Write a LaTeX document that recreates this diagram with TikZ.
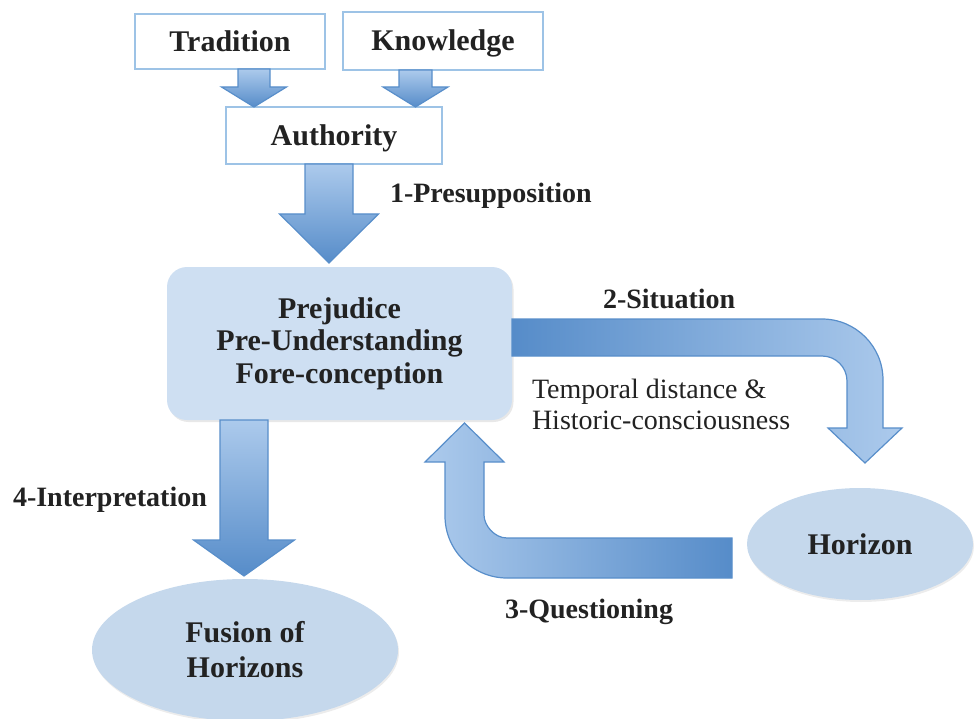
\documentclass[tikz,border=0pt]{standalone}
\usepackage{fontspec}
\setmainfont{Liberation Serif}
\usetikzlibrary{calc,shadows,shapes.geometric}

\definecolor{boxline}{RGB}{157,195,230}
\definecolor{prejfill}{RGB}{206,223,242}
\definecolor{ellfill}{RGB}{197,216,236}
\definecolor{arrdark}{RGB}{86,140,201}
\definecolor{arrlight}{RGB}{172,202,236}
\definecolor{arrline}{RGB}{88,142,202}
\definecolor{ink}{RGB}{34,34,34}

% straight downward block arrow: #1 start, #2 tip, #3 shaft half width,
% #4 head half width, #5 head length
\newcommand{\downblock}[5]{%
  \draw[blockarrow, top color=arrlight, bottom color=arrdark]
    let \p1=(#1), \p2=(#2) in
    ({\x1-#3},\y1) -- ({\x1-#3},{\y2+#5}) -- ({\x1-#4},{\y2+#5}) -- (\x1,\y2)
    -- ({\x1+#4},{\y2+#5}) -- ({\x1+#3},{\y2+#5}) -- ({\x1+#3},\y1) -- cycle;}

\begin{document}
\begin{tikzpicture}[x=1pt,y=-1pt,
  every node/.style={text=ink, outer sep=0pt},
  framebox/.style={draw=boxline, line width=2.5pt, fill=white, inner sep=0pt,
    text height=20pt, text depth=0pt,
    font=\fontsize{30}{35}\selectfont\bfseries},
  prejbox/.style={fill=prejfill, rounded corners=20pt, inner sep=0pt,
    minimum width=345pt, minimum height=153pt, align=center,
    font=\fontsize{30}{32.5}\selectfont\bfseries,
    drop shadow={opacity=0.18, shadow xshift=1.5pt, shadow yshift=-2pt}},
  horiz/.style={ellipse, fill=ellfill, inner sep=0pt, align=center,
    font=\fontsize{30}{35}\selectfont\bfseries,
    drop shadow={opacity=0.15, shadow xshift=1pt, shadow yshift=-2pt}},
  steplabel/.style={anchor=base west, inner sep=0pt,
    font=\fontsize{28}{32}\selectfont\bfseries},
  notelabel/.style={anchor=base west, inner sep=0pt,
    font=\fontsize{28}{31}\selectfont},
  blockarrow/.style={draw=arrline, line width=1.2pt, line join=miter}]

\path[use as bounding box] (0,0) rectangle (976,719);

% boxes and ellipses
\node[framebox, minimum width=190pt, minimum height=55pt] (trad) at (230,41.5) {Tradition};
\node[framebox, minimum width=200pt, minimum height=58pt] (know) at (443,41) {Knowledge};
\node[framebox, minimum width=216pt, minimum height=57pt] (auth) at (334,135.5) {Authority};
\node[prejbox] (prej) at (339.5,343.5) {Prejudice\\Pre-Understanding\\Fore-conception};
\node[horiz, minimum width=226pt, minimum height=112pt] (hor) at (860,544) {Horizon};
\node[horiz, minimum width=306pt, minimum height=142pt] (fus) at (245,650) {Fusion of\\Horizons};

% arrow end points taken from the nodes
\coordinate (tA) at ($(trad.south)+(24,0)$);
\coordinate (tB) at (tA |- auth.north);
\coordinate (kA) at ($(know.south)+(-27.5,0)$);
\coordinate (kB) at (kA |- auth.north);
\coordinate (pA) at ($(auth.south)+(-5,0)$);
\coordinate (pB) at ($(pA |- prej.north)+(0,-4)$);
\coordinate (iA) at ($(prej.south)+(-95.5,0)$);
\coordinate (iB) at ($(iA |- fus.north)+(0,-3)$);
\coordinate (sA) at ($(prej.east)+(0,-6)$);
\coordinate (sB) at ($(hor.north)+(5,-25)$);
\coordinate (qA) at ($(hor.west)+(-15,14)$);
\coordinate (qB) at ($(prej.south)+(125,3)$);

% straight block arrows
\downblock{tA}{tB}{16pt}{32.5pt}{20pt}
\downblock{kA}{kB}{16.5pt}{32.5pt}{20pt}
\downblock{pA}{pB}{24pt}{49.5pt}{49pt}
\downblock{iA}{iB}{24pt}{50.5pt}{36pt}

% 2-Situation: right, then bending down
\draw[blockarrow, left color=arrdark, right color=arrlight]
  let \p1=(sA), \p2=(sB) in
  (\x1,{\y1+18.5pt}) -- ({\x2+18pt-61pt},{\y1+18.5pt})
  .. controls ({\x2+18pt-61pt+33.7pt},{\y1+18.5pt}) and ({\x2+18pt},{\y1+18.5pt-61pt+33.7pt})
  .. ({\x2+18pt},{\y1+18.5pt-61pt})
  -- ({\x2+18pt},{\y2+35pt}) -- ({\x2+37pt},{\y2+35pt}) -- (\x2,\y2)
  -- ({\x2-37pt},{\y2+35pt}) -- ({\x2-18pt},{\y2+35pt})
  -- ({\x2-18pt},{\y1-18.5pt-25pt})
  .. controls ({\x2-18pt},{\y1-18.5pt-25pt+13.8pt}) and ({\x2-18pt-25pt+13.8pt},{\y1-18.5pt})
  .. ({\x2-18pt-25pt},{\y1-18.5pt})
  -- (\x1,{\y1-18.5pt}) -- cycle;

% 3-Questioning: left, then bending up
\draw[blockarrow, left color=arrlight, right color=arrdark]
  let \p1=(qA), \p2=(qB) in
  (\x1,{\y1+20pt}) -- ({\x2+19.5pt+23pt},{\y1+20pt})
  .. controls ({\x2+19.5pt+23pt-12.7pt},{\y1+20pt}) and ({\x2+19.5pt},{\y1+20pt+12.7pt})
  .. ({\x2+19.5pt},{\y1+20pt+23pt})
  -- ({\x2+19.5pt},{\y2-39pt}) -- ({\x2+39.5pt},{\y2-39pt}) -- (\x2,\y2)
  -- ({\x2-39.5pt},{\y2-39pt}) -- ({\x2-19.5pt},{\y2-39pt})
  -- ({\x2-19.5pt},{\y1-20pt+62pt})
  .. controls ({\x2-19.5pt},{\y1-20pt+62pt-34.2pt}) and ({\x2-19.5pt+62pt-34.2pt},{\y1-20pt})
  .. ({\x2-19.5pt+62pt},{\y1-20pt})
  -- (\x1,{\y1-20pt}) -- cycle;

% labels
\node[steplabel] (l1) at (390,203) {1-Presupposition};
\node[steplabel] (l2) at (603,308) {2-Situation};
\node[notelabel] (n1) at (532,398) {Temporal distance \&};
\node[notelabel] (n2) at (532,429) {Historic-consciousness};
\node[steplabel] (l3) at (505,618) {3-Questioning};
\node[steplabel] (l4) at (13,506) {4-Interpretation};
\end{tikzpicture}
\end{document}
